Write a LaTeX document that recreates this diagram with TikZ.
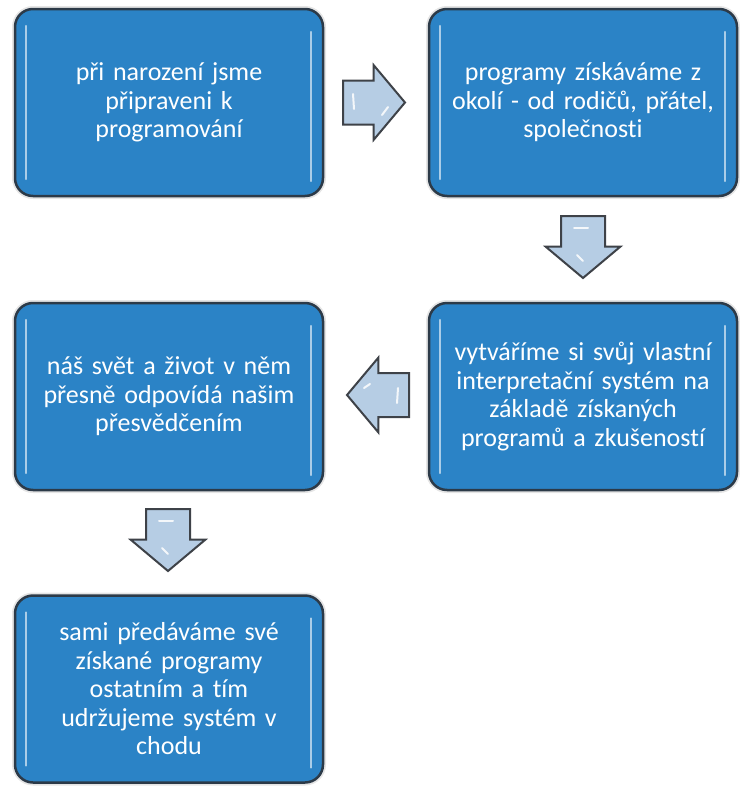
\documentclass[tikz,border=0pt]{standalone}
\usepackage{fontspec}
\setmainfont{Carlito}[Ligatures=NoCommon]
\usetikzlibrary{shapes.arrows,positioning}

\definecolor{boxblue}{RGB}{43,131,198}
\definecolor{boxline}{RGB}{44,58,72}
\definecolor{arrowfill}{RGB}{182,205,228}
\definecolor{arrowline}{RGB}{62,66,72}

\tikzset{
  stepbox/.style={draw=boxline, line width=2.5pt, fill=boxblue, rounded corners=18pt,
    minimum width=308pt, minimum height=187pt, text=white, text width=295pt, align=center,
    font=\fontsize{26}{28.5}\selectfont, preaction={draw=black!10, line width=6pt}},
  flowarrow/.style={single arrow, draw=arrowline, line width=2pt, fill=arrowfill,
    minimum height=62pt, minimum width=75pt,
    single arrow head extend=15.5pt, single arrow tip angle=100, anchor=tail},
  harrow/.style={flowarrow, inner xsep=3pt, inner ysep=21pt},
  varrow/.style={flowarrow, inner xsep=21pt, inner ysep=3pt},
  gloss/.style={draw=white!60!boxblue, line width=1.8pt, line cap=round},
  shine/.style={draw=white, line width=2pt, line cap=round, opacity=0.85}
}

\begin{document}
\begin{tikzpicture}[x=1pt,y=-1pt]
    \useasboundingbox (0,0) rectangle (739,787);

    % boxes
    \node[stepbox] (p1) at (169,102.5) {při narození jsme\\ připraveni k\\ programování};
    \node[stepbox] (p2) at (583,102.5) {programy získáváme z\\ okolí - od rodičů, přátel,\\ společnosti};
    \node[stepbox] (p3) at (169,396.5) {náš svět a život v něm\\ přesně odpovídá našim\\ přesvědčením};
    \node[stepbox] (p4) at (583,396.5) {vytváříme si svůj vlastní\\ interpretační systém na\\ základě získaných\\ programů a zkušeností};
    \node[stepbox] (p5) at (169,689) {sami předáváme své\\ získané programy\\ ostatním a tím\\ udržujeme systém v\\ chodu};

    \foreach \b in {p1,p2,p3,p4,p5} {
      \draw[gloss] ([xshift=12pt,yshift=-18pt]\b.north west) -- ([xshift=12pt,yshift=18pt]\b.south west);
      \draw[gloss] ([xshift=-13pt,yshift=-24pt]\b.north east) -- ([xshift=-13pt,yshift=16pt]\b.south east);
    }

    % arrows
    \node[harrow] (a1) at (342,102.5) {};
    \node[varrow, shape border rotate=270] (a2) at (583,215) {};
    \node[harrow, shape border rotate=180] (a3) at (410,395) {};
    \node[varrow, shape border rotate=270] (a4) at (168,508) {};

    % highlights on the arrows
    \draw[shine] (353,94) -- (354,109);
    \draw[shine] (382,115) -- (388,107);
    \draw[shine] (574,228) -- (588,228);
    \draw[shine] (577,255) -- (583,261);
    \draw[shine] (398,388) -- (397,403);
    \draw[shine] (364,388) -- (370,384);
    \draw[shine] (159,521) -- (173,521);
    \draw[shine] (162,548) -- (168,554);
\end{tikzpicture}
\end{document}
